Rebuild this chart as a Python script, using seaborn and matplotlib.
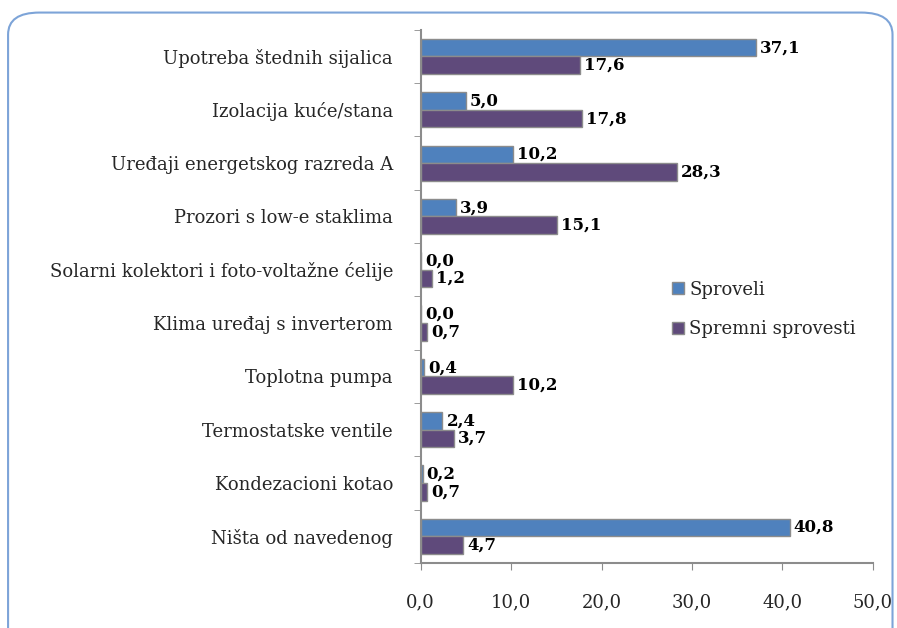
import numpy as np
import pandas as pd
import matplotlib
matplotlib.use("Agg")
import matplotlib.pyplot as plt
import seaborn as sns
from matplotlib.patches import FancyBboxPatch

# podaci
categories = [
    "Upotreba štednih sijalica",
    "Izolacija kuće/stana",
    "Uređaji energetskog razreda A",
    "Prozori s low-e staklima",
    "Solarni kolektori i foto-voltažne ćelije",
    "Klima uređaj s inverterom",
    "Toplotna pumpa",
    "Termostatske ventile",
    "Kondezacioni kotao",
    "Ništa od navedenog",
]
sproveli = [37.1, 5.0, 10.2, 3.9, 0.0, 0.0, 0.4, 2.4, 0.2, 40.8]
spremni = [17.6, 17.8, 28.3, 15.1, 1.2, 0.7, 10.2, 3.7, 0.7, 4.7]
series = ["Sproveli", "Spremni sprovesti"]
x_ticks = [0, 10, 20, 30, 40, 50]

df = pd.DataFrame({
    "kategorija": categories * 2,
    "vrednost": sproveli + spremni,
    "serija": [series[0]] * len(categories) + [series[1]] * len(categories),
})

sns.set_style("white")
plt.rcParams["font.family"] = ["DejaVu Serif"]

fig = plt.figure(figsize=(8.97, 6.28), dpi=100)
ax = fig.add_axes([0.469, 0.1035, 0.504, 0.849])

# okvir oko grafikona
frame = FancyBboxPatch((0.009, -0.05), 0.986, 1.03,
                       boxstyle="round,pad=0,rounding_size=0.035",
                       transform=fig.transFigure, facecolor="none",
                       edgecolor="#7da4d8", linewidth=1.5, clip_on=False)
fig.patches.append(frame)

palette = {series[0]: "#4f81bd", series[1]: "#5f4a7b"}
sns.barplot(data=df, y="kategorija", x="vrednost", hue="serija",
            order=categories, hue_order=series, palette=palette,
            orient="h", width=0.66, ax=ax, edgecolor="#8c8c8c",
            linewidth=1.0, saturation=1)

for cont in ax.containers:
    labels = [f"{v:.1f}".replace(".", ",") for v in cont.datavalues]
    ax.bar_label(cont, labels=labels, padding=3, fontsize=12,
                 fontweight="bold", color="black")

ax.set_xlim(0, 50)
ax.set_ylim(9.5, -0.5)
ax.set_xticks(x_ticks)
ax.set_xticklabels([f"{t:.1f}".replace(".", ",") for t in x_ticks], fontsize=13)
ax.set_xlabel("")
ax.set_ylabel("")
ax.tick_params(axis="y", labelsize=13, length=0, pad=20)
ax.tick_params(axis="x", length=5, color="#8c8c8c", direction="out", pad=17,
               bottom=True)
ax.set_yticks(np.arange(-0.5, 10, 1), minor=True)
ax.tick_params(axis="y", which="minor", length=5, color="#8c8c8c", left=True)

for side in ["top", "right"]:
    ax.spines[side].set_visible(False)
for side in ["left", "bottom"]:
    ax.spines[side].set_color("#8c8c8c")
    ax.spines[side].set_linewidth(1.5)

leg = ax.legend(loc="upper left", bbox_to_anchor=(0.52, 0.56), frameon=False,
                fontsize=13, handlelength=0.65, handleheight=0.65,
                labelspacing=1.2, handletextpad=0.3)

fig.savefig("out.png", dpi=100)
